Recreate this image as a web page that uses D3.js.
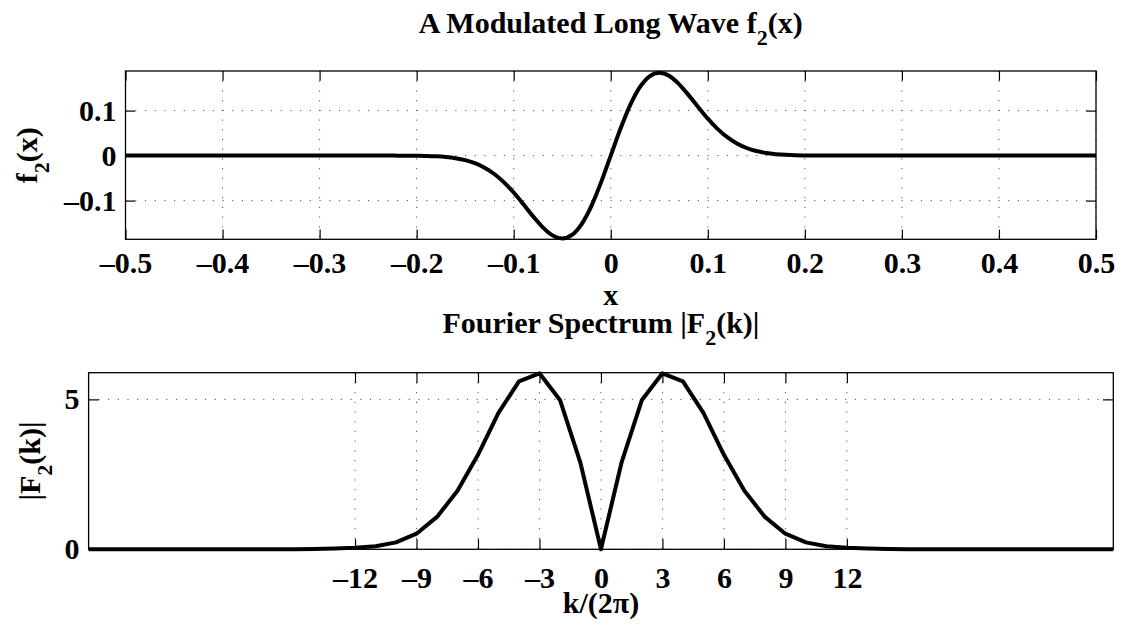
<!DOCTYPE html>
<html>
<head>
<meta charset="utf-8">
<script src="https://cdn.jsdelivr.net/npm/d3@7"></script>
<style>
  body { margin: 0; background: #fff; }
  svg text { font-family: "Liberation Serif", "Times New Roman", serif; font-weight: bold; fill: #000; }
</style>
</head>
<body>
<svg width="1122" height="629"></svg>
<script>
// top panel: samples of f2(x)
const waveX = [-0.5, -0.24, -0.23, -0.22, -0.21, -0.2, -0.19, -0.18, -0.17, -0.16, -0.15, -0.14, -0.13, -0.12, -0.11, -0.1,
  -0.09, -0.08, -0.07, -0.06, -0.05, -0.04, -0.03, -0.02, -0.01, 0, 0.01, 0.02, 0.03, 0.04, 0.05, 0.06, 0.07, 0.08, 0.09,
  0.1, 0.11, 0.12, 0.13, 0.14, 0.15, 0.16, 0.17, 0.18, 0.19, 0.2, 0.21, 0.22, 0.23, 0.24, 0.5]
const waveY = [0, 0, 0, -0.0001, -0.0002, -0.0004, -0.0008, -0.0017, -0.0032, -0.0058, -0.0101, -0.0169, -0.0269, -0.0409, -0.0594, -0.0821,
  -0.1081, -0.1350, -0.1595, -0.1773, -0.1841, -0.1763, -0.1521, -0.1121, -0.0595, 0, 0.0595, 0.1121, 0.1521, 0.1763, 0.1841, 0.1773, 0.1595, 0.1350, 0.1081,
  0.0821, 0.0594, 0.0409, 0.0269, 0.0169, 0.0101, 0.0058, 0.0032, 0.0017, 0.0008, 0.0004, 0.0002, 0.0001, 0, 0, 0]
const topXTicks = [-0.5, -0.4, -0.3, -0.2, -0.1, 0, 0.1, 0.2, 0.3, 0.4, 0.5]
const topYTicks = [-0.1, 0, 0.1]

// bottom panel: |F2(k)| at integer k/(2pi)
const specK = [-25, -24, -23, -22, -21, -20, -19, -18, -17, -16, -15, -14, -13, -12, -11, -10, -9, -8, -7, -6, -5, -4, -3, -2, -1,
  0, 1, 2, 3, 4, 5, 6, 7, 8, 9, 10, 11, 12, 13, 14, 15, 16, 17, 18, 19, 20, 21, 22, 23, 24, 25]
const specAmp = [0, 0, 0, 0, 0, 0, 0, 0, 0, 0.001, 0.003, 0.01, 0.03, 0.05, 0.1, 0.23, 0.52, 1.08, 1.95, 3.15, 4.55, 5.6, 5.87, 4.98, 2.88,
  0, 2.88, 4.98, 5.87, 5.6, 4.55, 3.15, 1.95, 1.08, 0.52, 0.23, 0.1, 0.05, 0.03, 0.01, 0.003, 0.001, 0, 0, 0, 0, 0, 0, 0, 0, 0]
const botXTicks = [-12, -9, -6, -3, 0, 3, 6, 9, 12]
const botYTicks = [0, 5]

const fmt = d => d < 0 ? "\u2013" + Math.abs(d) : String(d)

const svg = d3.select("svg")
svg.append("rect").attr("width", 1122).attr("height", 629).attr("fill", "#fff")

function panel(o) {
  const x = d3.scaleLinear().domain(o.xDomain).range([o.left, o.right])
  const y = d3.scaleLinear().domain(o.yDomain).range([o.bottom, o.top])
  const tl = o.tick
  const g = svg.append("g")

  // dotted grid
  g.append("g").selectAll("line").data(o.xTicks).join("line")
    .attr("x1", d => x(d)).attr("x2", d => x(d))
    .attr("y1", o.top).attr("y2", o.bottom)
  g.append("g").selectAll("line").data(o.yTicks).join("line")
    .attr("x1", o.left).attr("x2", o.right)
    .attr("y1", d => y(d)).attr("y2", d => y(d))
  g.selectAll("g line")
    .attr("stroke", "#555").attr("stroke-width", 1).attr("stroke-dasharray", "1.2,8.5")

  // ticks + labels
  const ax = (call, tr) => {
    const a = g.append("g").attr("transform", tr).call(call)
    a.select(".domain").remove()
    a.selectAll(".tick line").attr("stroke", "#000").attr("stroke-width", 1.2)
    a.selectAll("text").attr("font-size", 30).attr("font-family", null)
    return a
  }
  ax(d3.axisBottom(x).tickValues(o.xTicks).tickFormat(fmt).tickSize(-tl).tickPadding(o.xPad), `translate(0,${o.bottom})`)
  ax(d3.axisTop(x).tickValues(o.xTicks).tickFormat("").tickSize(-tl), `translate(0,${o.top})`)
  ax(d3.axisLeft(y).tickValues(o.yTicks).tickFormat(fmt).tickSize(-tl).tickPadding(o.yPad), `translate(${o.left},0)`)
  ax(d3.axisRight(y).tickValues(o.yTicks).tickFormat("").tickSize(-tl), `translate(${o.right},0)`)

  // frame
  g.append("rect")
    .attr("x", o.left).attr("y", o.top)
    .attr("width", o.right - o.left).attr("height", o.bottom - o.top)
    .attr("fill", "none").attr("stroke", "#000").attr("stroke-width", 1.3)

  // curve
  const line = d3.line().x(d => x(d[0])).y(d => y(d[1])).curve(o.curve)
  g.append("path")
    .datum(d3.zip(o.xs, o.ys))
    .attr("d", line)
    .attr("fill", "none").attr("stroke", "#000")
    .attr("stroke-width", 4).attr("stroke-linejoin", "round")

  return {x, y}
}

// subscript label helper
function subText(x, y, parts, rotate) {
  const t = svg.append("text")
    .attr("transform", `translate(${x},${y})` + (rotate ? " rotate(-90)" : ""))
    .attr("text-anchor", "middle").attr("font-size", 30)
  t.append("tspan").text(parts[0])
  if (parts.length > 1) {
    t.append("tspan").attr("font-size", 22).attr("dy", 12).text(parts[1])
    t.append("tspan").attr("dy", -12).text(parts[2])
  }
  return t
}

// top panel
panel({
  left: 125.5, right: 1096, top: 71, bottom: 239.3,
  xDomain: [-0.5, 0.5], yDomain: [-0.186, 0.188],
  xTicks: topXTicks, yTicks: topYTicks,
  xs: waveX, ys: waveY, curve: d3.curveMonotoneX,
  tick: 9.7, xPad: 12.5, yPad: 9
})
subText(610.75, 33, ["A Modulated Long Wave f", "2", "(x)"])
subText(610.75, 305, ["x"])
subText(37, 155.2, ["f", "2", "(x)"], true)

// bottom panel
panel({
  left: 88.6, right: 1113.3, top: 372.7, bottom: 549.3,
  xDomain: [-25, 25], yDomain: [0, 5.89],
  xTicks: botXTicks, yTicks: botYTicks,
  xs: specK, ys: specAmp, curve: d3.curveLinear,
  tick: 10.3, xPad: 17, yPad: 9
})
subText(601, 333, ["Fourier Spectrum |F", "2", "(k)|"])
subText(601, 613, ["k/(2\u03c0)"])
subText(40, 461, ["|F", "2", "(k)|"], true)
</script>
</body>
</html>
